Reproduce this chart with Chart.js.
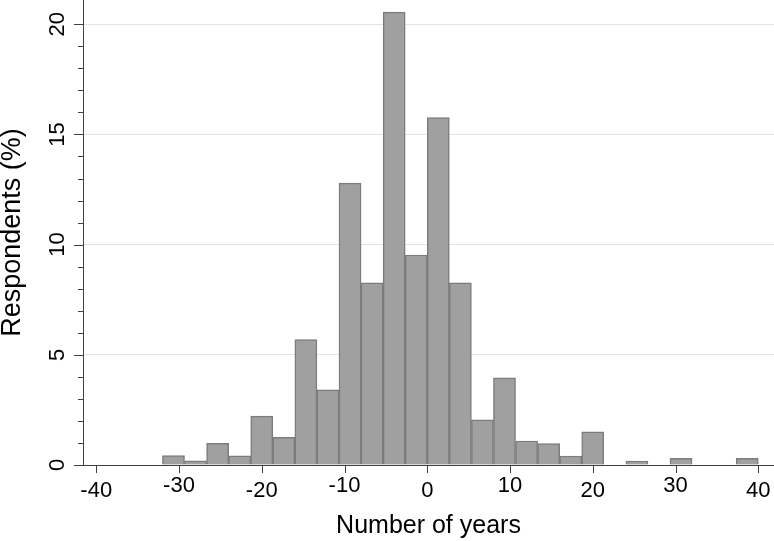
<!DOCTYPE html>
<html>
<head>
<meta charset="utf-8">
<script src="https://cdn.jsdelivr.net/npm/chart.js@4"></script>
<style>
  html, body { margin: 0; padding: 0; background: #fff; }
  canvas { display: block; }
</style>
</head>
<body>
<canvas id="histChart" width="774" height="541"></canvas>
<script>
// histogram bins: 27 bins from -32 to 40 years
const firstBin = -32;
const binWidth = 8 / 3;
const respondents = [
  0.43, 0.19, 0.98, 0.42, 2.22, 1.25, 5.69, 3.41, 12.79,
  8.27, 20.55, 9.53, 15.77, 8.27, 2.05, 3.95, 1.09, 0.97,
  0.41, 1.50, 0, 0.18, 0, 0.30, 0, 0, 0.30
];
const xTickLabels = [-40, -30, -20, -10, 0, 10, 20, 30, 40];
const yTickLabels = [0, 5, 10, 15, 20];
const yMinorStep = 1;

const FONT = '"Liberation Sans", Arial, sans-serif';
const AXIS_COLOR = '#404040';

const hist_data = {
  datasets: [{
    label: 'Respondents (%)',
    data: respondents.map((v, i) => ({ x: firstBin + (i + 0.5) * binWidth, y: v })),
    backgroundColor: '#a0a0a0',
    borderColor: '#7c7c7c',
    borderWidth: 1.5,
    barPercentage: 1,
    categoryPercentage: 1
  }]
};

// tick marks, tick labels and axis titles drawn on top of the scales
const axisText = {
  id: 'axisText',
  afterDraw(chart) {
    const ctx = chart.ctx;
    const xs = chart.scales.x;
    const ys = chart.scales.y;
    const { left, right, top, bottom } = chart.chartArea;
    ctx.save();
    ctx.strokeStyle = AXIS_COLOR;
    ctx.lineWidth = 1;
    ctx.beginPath();
    for (let v = 0; v <= yTickLabels[yTickLabels.length - 1]; v += yMinorStep) {
      const py = Math.round(ys.getPixelForValue(v)) + 0.5;
      const len = yTickLabels.includes(v) ? 9 : 5;
      ctx.moveTo(left - len, py);
      ctx.lineTo(left, py);
    }
    xTickLabels.forEach(v => {
      const px = Math.round(xs.getPixelForValue(v)) + 0.5;
      ctx.moveTo(px, bottom);
      ctx.lineTo(px, bottom + 8);
    });
    ctx.stroke();

    ctx.fillStyle = '#000';
    ctx.textAlign = 'center';
    ctx.textBaseline = 'alphabetic';
    ctx.font = '22px ' + FONT;
    xTickLabels.forEach((v, i) => {
      ctx.fillText(String(v), xs.getPixelForValue(v), bottom + (i % 2 ? 27 : 32));
    });
    yTickLabels.forEach(v => {
      ctx.save();
      ctx.translate(left - 19, ys.getPixelForValue(v));
      ctx.rotate(-Math.PI / 2);
      ctx.fillText(String(v), 0, 0);
      ctx.restore();
    });

    ctx.font = '25px ' + FONT;
    ctx.fillText('Number of years', (left + right) / 2, bottom + 68);
    ctx.save();
    ctx.translate(20, (top + bottom) / 2);
    ctx.rotate(-Math.PI / 2);
    ctx.font = '27px ' + FONT;
    ctx.fillText('Respondents (%)', 0, 0);
    ctx.restore();
    ctx.restore();
  }
};

const hist_config = {
  type: 'bar',
  data: hist_data,
  options: {
    responsive: false,
    animation: false,
    devicePixelRatio: 1,
    layout: { padding: 0 },
    plugins: { legend: { display: false }, tooltip: { enabled: false } },
    scales: {
      x: {
        type: 'linear',
        min: -41.6,
        max: 41.9,
        offset: false,
        afterBuildTicks: s => { s.ticks = xTickLabels.map(v => ({ value: v })); },
        afterFit: s => { s.height = 76; },
        ticks: { display: false },
        grid: { display: false, offset: false },
        border: { display: true, color: AXIS_COLOR, width: 1 }
      },
      y: {
        min: 0,
        max: 21.1,
        afterBuildTicks: s => { s.ticks = yTickLabels.map(v => ({ value: v })); },
        afterFit: s => { s.width = 83; },
        ticks: { display: false },
        grid: {
          drawTicks: false,
          color: c => (c.tick && c.tick.value === 0 ? 'transparent' : '#e4e4e4'),
          lineWidth: 1
        },
        border: { display: true, color: AXIS_COLOR, width: 1 }
      }
    }
  },
  plugins: [axisText]
};

const histChart = new Chart(document.getElementById('histChart'), hist_config);
</script>
</body>
</html>
